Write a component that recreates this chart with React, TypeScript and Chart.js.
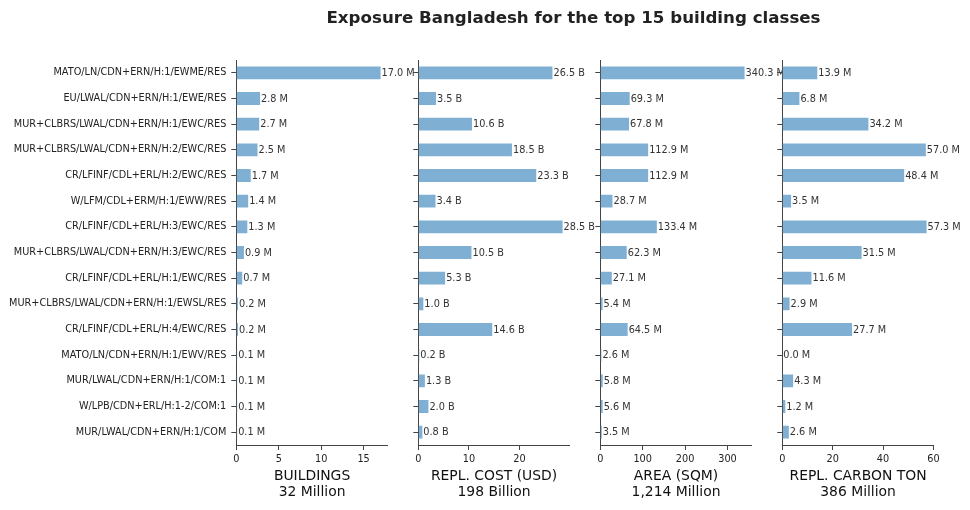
import React, { useEffect, useRef } from 'react';
import { Chart, registerables } from 'chart.js';

Chart.register(...registerables);

const categories = [
  'MATO/LN/CDN+ERN/H:1/EWME/RES',
  'EU/LWAL/CDN+ERN/H:1/EWE/RES',
  'MUR+CLBRS/LWAL/CDN+ERN/H:1/EWC/RES',
  'MUR+CLBRS/LWAL/CDN+ERN/H:2/EWC/RES',
  'CR/LFINF/CDL+ERL/H:2/EWC/RES',
  'W/LFM/CDL+ERM/H:1/EWW/RES',
  'CR/LFINF/CDL+ERL/H:3/EWC/RES',
  'MUR+CLBRS/LWAL/CDN+ERN/H:3/EWC/RES',
  'CR/LFINF/CDL+ERL/H:1/EWC/RES',
  'MUR+CLBRS/LWAL/CDN+ERN/H:1/EWSL/RES',
  'CR/LFINF/CDL+ERL/H:4/EWC/RES',
  'MATO/LN/CDN+ERN/H:1/EWV/RES',
  'MUR/LWAL/CDN+ERN/H:1/COM:1',
  'W/LPB/CDN+ERL/H:1-2/COM:1',
  'MUR/LWAL/CDN+ERN/H:1/COM',
];

const buildings = [17.0, 2.8, 2.7, 2.5, 1.7, 1.4, 1.3, 0.9, 0.7, 0.2, 0.2, 0.1, 0.1, 0.1, 0.1];
const replCost = [26.5, 3.5, 10.6, 18.5, 23.3, 3.4, 28.5, 10.5, 5.3, 1.0, 14.6, 0.2, 1.3, 2.0, 0.8];
const area = [340.3, 69.3, 67.8, 112.9, 112.9, 28.7, 133.4, 62.3, 27.1, 5.4, 64.5, 2.6, 5.8, 5.6, 3.5];
const carbon = [13.9, 6.8, 34.2, 57.0, 48.4, 3.5, 57.3, 31.5, 11.6, 2.9, 27.7, 0.0, 4.3, 1.2, 2.6];

const buildingsTicks = [0, 5, 10, 15];
const replCostTicks = [0, 10, 20];
const areaTicks = [0, 100, 200, 300];
const carbonTicks = [0, 20, 40, 60];

const panelTitles = [
  ['BUILDINGS', '32 Million'],
  ['REPL. COST (USD)', '198 Billion'],
  ['AREA (SQM)', '1,214 Million'],
  ['REPL. CARBON TON', '386 Million'],
];
const units = ['M', 'B', 'M', 'M'];
const series = [buildings, replCost, area, carbon];
const tickSets = [buildingsTicks, replCostTicks, areaTicks, carbonTicks];

const chartTitle = 'Exposure Bangladesh for the top 15 building classes';

const BAR = '#7fb0d4';
const AXIS = '#444';
const TXT = '#222';
const FONT = '"DejaVu Sans", sans-serif';

function Panel({ idx }: { idx: number }) {
  const ref = useRef<HTMLCanvasElement | null>(null);
  useEffect(() => {
    if (!ref.current) return;
    const values = series[idx];
    const tickVals = tickSets[idx];
    const L = 236.3 + 182 * idx;
    const W = 151.5;
    const yW = idx === 0 ? L : 10;
    const maxV = Math.max(...values) * 1.05;
    const plugins: any[] = [
      {
        id: 'vlabels' + idx,
        afterDatasetsDraw(chart: any) {
          const ctx = chart.ctx;
          const meta = chart.getDatasetMeta(0);
          ctx.save();
          ctx.font = '9.72px ' + FONT;
          ctx.fillStyle = '#333';
          ctx.textBaseline = 'middle';
          ctx.textAlign = 'left';
          meta.data.forEach((bar: any, j: number) => {
            ctx.fillText(values[j].toFixed(1) + ' ' + units[idx], bar.x + 1, bar.y + 0.5);
          });
          ctx.restore();
        },
      },
    ];
    if (idx === 0) {
      plugins.push({
        id: 'maintitle',
        afterDraw(chart: any) {
          const ctx = chart.ctx;
          ctx.save();
          ctx.font = 'bold 16.67px ' + FONT;
          ctx.fillStyle = TXT;
          ctx.textAlign = 'center';
          ctx.textBaseline = 'alphabetic';
          ctx.fillText(chartTitle, 573.5, 22.7);
          ctx.restore();
        },
      });
    }
    const chart = new Chart(ref.current, {
      type: 'bar',
      data: {
        labels: categories,
        datasets: [
          {
            data: values,
            backgroundColor: BAR,
            borderWidth: 0,
            barPercentage: 0.5,
            categoryPercentage: 1.0,
          },
        ],
      },
      options: {
        responsive: false,
        animation: false,
        indexAxis: 'y',
        layout: { padding: { left: L - yW, right: 970 - L - W, top: 60, bottom: 0 } },
        plugins: { legend: { display: false }, tooltip: { enabled: false }, title: { display: false } },
        scales: {
          x: {
            type: 'linear',
            position: 'bottom',
            min: 0,
            max: maxV,
            afterFit: (s: any) => {
              s.height = 65;
            },
            afterBuildTicks: (s: any) => {
              s.ticks = tickVals.map((v) => ({ value: v }));
            },
            ticks: {
              color: TXT,
              font: { size: 9.72, family: FONT },
              padding: 4,
              maxRotation: 0,
              autoSkip: false,
              callback: (v: any) => String(v),
            },
            grid: { drawOnChartArea: false, drawTicks: true, tickLength: 5, tickColor: AXIS, tickWidth: 1 },
            border: { display: true, color: AXIS, width: 1 },
            title: {
              display: true,
              text: panelTitles[idx],
              color: '#111',
              font: { size: 13.9, family: FONT, lineHeight: 16 / 13.9 },
              padding: { top: 0, bottom: 10 },
            },
          },
          y: {
            type: 'category',
            offset: true,
            afterFit: (s: any) => {
              s.width = yW;
            },
            ticks: {
              display: idx === 0,
              color: TXT,
              font: { size: 9.72, family: FONT },
              padding: 5,
              autoSkip: false,
            },
            grid: { drawOnChartArea: false, offset: false, drawTicks: true, tickLength: 5, tickColor: AXIS, tickWidth: 1 },
            border: { display: true, color: AXIS, width: 1 },
          },
        },
      } as any,
      plugins,
    });
    return () => chart.destroy();
  }, [idx]);
  return (
    <canvas
      ref={ref}
      width={970}
      height={510}
      style={{ position: 'absolute', left: 0, top: 0, width: 970, height: 510 }}
    />
  );
}

export default function App() {
  return (
    <div style={{ position: 'fixed', left: 0, top: 0, width: 970, height: 510, background: '#fff' }}>
      {[0, 1, 2, 3].map((i) => (
        <Panel key={i} idx={i} />
      ))}
    </div>
  );
}
